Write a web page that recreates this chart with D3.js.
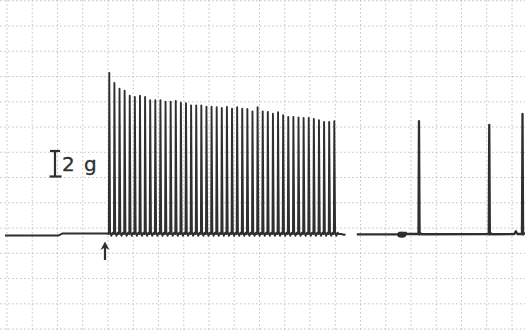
<!DOCTYPE html>
<html>
<head>
<meta charset="utf-8">
<script src="https://cdn.jsdelivr.net/npm/d3@7"></script>
<style>
  html, body { margin: 0; padding: 0; background: #fff; }
  svg { display: block; }
</style>
</head>
<body>
<svg id="chart" width="525" height="332"></svg>
<script>
// Stimulus train at 1 Hz: time of each stimulus (s) and peak twitch tension (g)
const trainTimes = [20, 21, 22, 23, 24, 25, 26, 27, 28, 29, 30, 31, 32, 33, 34,
  35, 36, 37, 38, 39, 40, 41, 42, 43, 44, 45, 46, 47, 48, 49, 50, 51, 52, 53, 54,
  55, 56, 57, 58, 59, 60, 61, 62, 63, 64];
const trainPeaks = [12.63, 11.84, 11.40, 11.24, 10.85, 10.75, 10.85, 10.75, 10.49,
  10.49, 10.49, 10.38, 10.38, 10.43, 10.30, 10.25, 10.09, 10.09, 10.09, 9.98, 9.98,
  9.94, 9.88, 9.96, 9.83, 9.94, 9.83, 9.80, 9.62, 9.94, 9.62, 9.57, 9.44, 9.55,
  9.31, 9.18, 9.18, 9.15, 9.10, 9.10, 9.02, 8.92, 8.78, 8.78, 8.84];

// Isolated twitches recorded later
const laterTimes = [80.56, 94.3, 100.8];
const laterPeaks = [8.86, 8.55, 9.41];

// Resting baseline before the train: [time s, tension g]
const restBefore = [[-0.4, -0.12], [10.0, -0.12], [10.9, 0.04], [19.6, 0.04]];
// Baseline after the train, up to the paper break
const restAfter = [[65.3, 0.0], [65.9, -0.06], [66.2, -0.04]];
// Second trace segment
const secondStart = 68.4, secondEnd = 101.3;
const blotSpan = [76.5, 77.8];
const bumpTime = 99.5, bumpHeight = 0.22;
const scaleBarGrams = 2;
const scaleLabel = "2 g";

const svg = d3.select("#chart");
const W = 525, H = 332;

const x = d3.scaleLinear().domain([0, 100]).range([7.0, 518.4]);
const y = d3.scaleLinear().domain([0, 2]).range([234, 208.5]);

// Chart paper grid
const grid = svg.append("g").attr("stroke", "#b4b4b4").attr("stroke-width", 0.9)
  .attr("stroke-dasharray", "1.6,2.4").attr("opacity", 0.85);
const vx = d3.range(7, W, 25.25);
const hy = d3.range(0.8, H, 25.25);
grid.selectAll("line.v").data(vx).join("line")
  .attr("x1", d => d).attr("x2", d => d).attr("y1", 0).attr("y2", H);
grid.selectAll("line.h").data(hy).join("line")
  .attr("x1", 0).attr("x2", W).attr("y1", d => d).attr("y2", d => d);

// Pen trace for the stimulus train
const px = 1 / 5.114; // one pixel in seconds
const trace1 = restBefore.slice();
trainTimes.forEach((t, i) => {
  trace1.push([t - 0.45 * px, 0.0]);
  trace1.push([t, trainPeaks[i]]);
  trace1.push([t + 0.8 * px, 0.15]);
  trace1.push([t + 2.0 * px, -0.14]);
  trace1.push([t + 3.4 * px, 0.1]);
  trace1.push([t + 4.2 * px, 0.0]);
});
restAfter.forEach(p => trace1.push(p));

// Second segment with isolated twitches
const trace2 = [[secondStart, -0.03], [blotSpan[0], -0.03]];
trace2.push([blotSpan[1], 0.0]);
laterTimes.forEach((t, i) => {
  if (t > bumpTime) {
    trace2.push([bumpTime - 0.3, 0.0]);
    trace2.push([bumpTime, bumpHeight]);
    trace2.push([bumpTime + 0.3, 0.0]);
  }
  trace2.push([t - 0.5 * px, 0.0]);
  trace2.push([t, laterPeaks[i]]);
  trace2.push([t + 0.6 * px, -0.05]);
  trace2.push([t + 1.6 * px, 0.06]);
  trace2.push([t + 2.6 * px, -0.02]);
});
trace2.push([secondEnd, -0.02]);

const pen = d3.line().x(d => x(d[0])).y(d => y(d[1]));

svg.append("path").attr("d", pen(trace1))
  .attr("fill", "none").attr("stroke", "#2f2f2f").attr("stroke-width", 1.9)
  .attr("stroke-linejoin", "round");
svg.append("path").attr("d", pen(trace2))
  .attr("fill", "none").attr("stroke", "#2f2f2f").attr("stroke-width", 2.3)
  .attr("stroke-linejoin", "round");

// Ink blot on the second segment
svg.append("ellipse")
  .attr("cx", x(blotSpan[0]) + 3.5).attr("cy", y(-0.06))
  .attr("rx", 4.6).attr("ry", 3.0).attr("fill", "#2a2a2a");
svg.append("line")
  .attr("x1", x(blotSpan[0])).attr("x2", x(blotSpan[1]) + 2)
  .attr("y1", y(0.08)).attr("y2", y(0.08))
  .attr("stroke", "#2f2f2f").attr("stroke-width", 2.4);

// Calibration bar
const barX = 55, barTop = 151;
const barBottom = barTop + (y(0) - y(scaleBarGrams));
const cal = svg.append("g").attr("stroke", "#2f2f2f").attr("stroke-width", 2.2);
cal.append("line").attr("x1", barX).attr("x2", barX).attr("y1", barTop).attr("y2", barBottom);
cal.append("line").attr("x1", barX - 5).attr("x2", barX + 5).attr("y1", barTop).attr("y2", barTop);
cal.append("line").attr("x1", barX - 5.5).attr("x2", barX + 6.5).attr("y1", barBottom).attr("y2", barBottom);
svg.append("text").attr("x", 62).attr("y", 171)
  .attr("font-family", "DejaVu Sans, sans-serif").attr("font-size", 20)
  .attr("fill", "#2f2f2f").attr("stroke", "#2f2f2f").attr("stroke-width", 0.3)
  .attr("word-spacing", 3)
  .text(scaleLabel);

// Stimulus onset arrow
const ax = 105;
svg.append("line").attr("x1", ax).attr("x2", ax).attr("y1", 260).attr("y2", 246)
  .attr("stroke", "#2f2f2f").attr("stroke-width", 2.2);
svg.append("path").attr("d", `M${ax - 4.5},${250} L${ax},${241.5} L${ax + 4.5},${250} L${ax},${247.5} Z`)
  .attr("fill", "#2f2f2f");
</script>
</body>
</html>
